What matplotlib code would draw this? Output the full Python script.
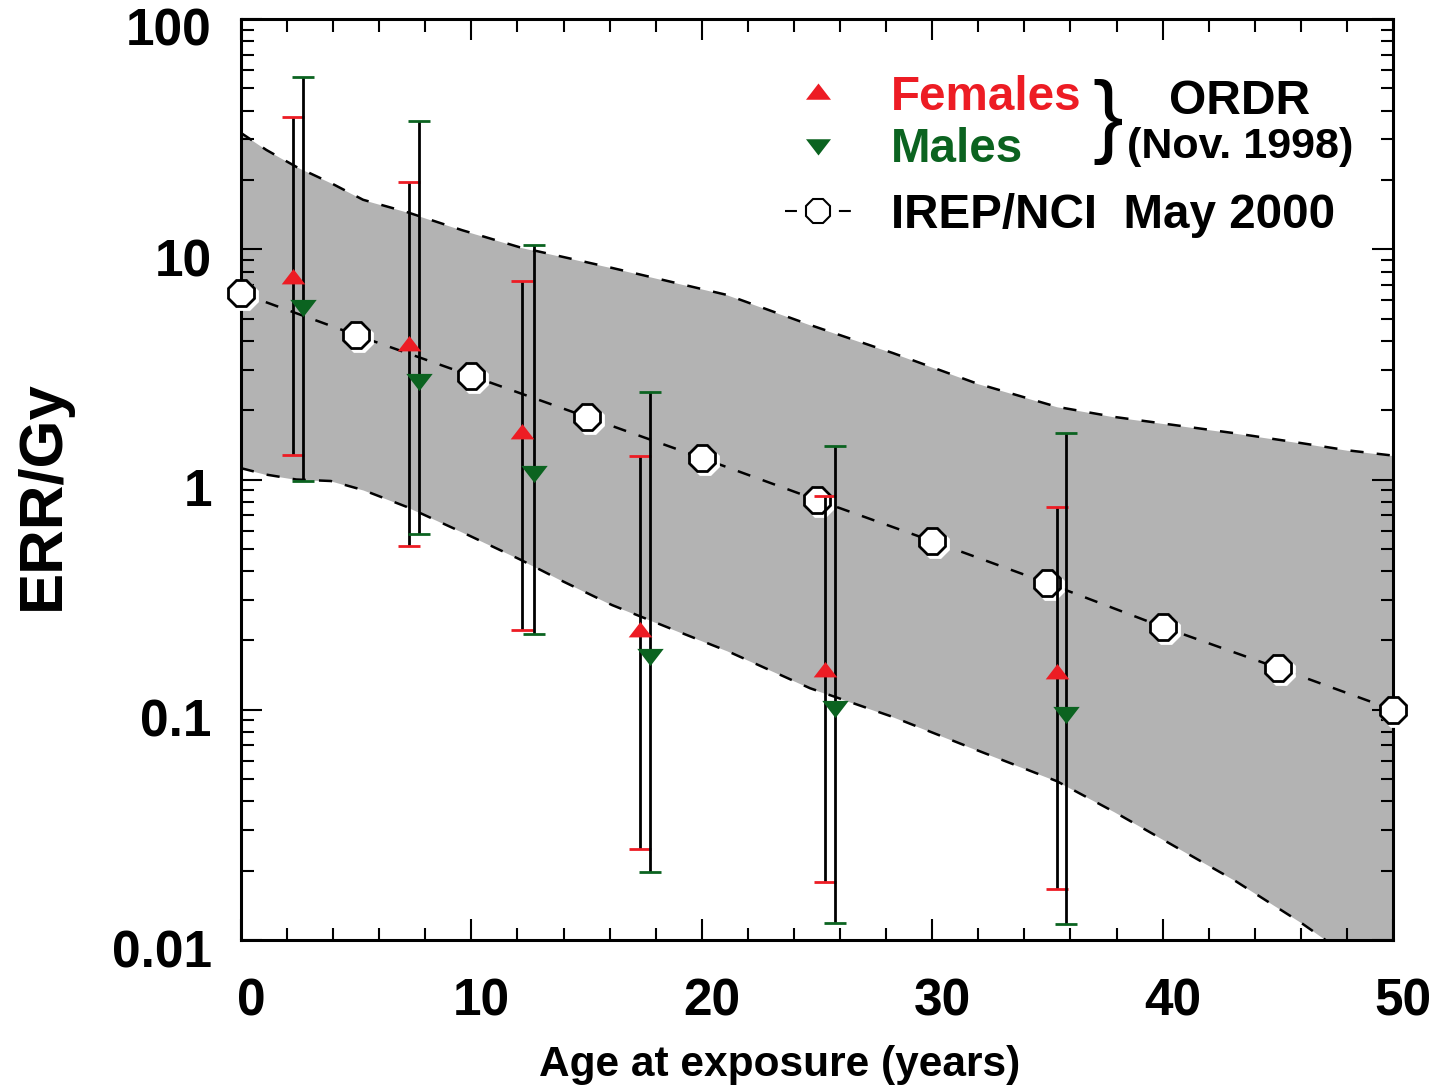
import matplotlib
matplotlib.use("Agg")
import matplotlib.pyplot as plt
import numpy as np
from matplotlib.lines import Line2D
from matplotlib.ticker import FixedLocator, MultipleLocator, LogLocator, NullFormatter
from matplotlib.transforms import ScaledTranslation

plt.rcParams['font.family'] = ['Liberation Sans', 'DejaVu Sans']
plt.rcParams['font.weight'] = 'bold'
plt.rcParams['lines.scale_dashes'] = False

# IREP/NCI May 2000 central estimate
irep_age = [0, 5, 10, 15, 20, 25, 30, 35, 40, 45, 50]
irep_err = [6.45, 4.24, 2.82, 1.87, 1.24, 0.815, 0.54, 0.355, 0.229, 0.152, 0.1]

# IREP uncertainty band (upper / lower dashed curves)
band_age = [0, 1.1, 2.4, 3.9, 5.3, 7.2, 9.6, 12.1, 14, 16.1, 18.9, 21.1,
            24.7, 28.3, 31.9, 35.4, 37.9, 43.1, 46.0, 48, 50]
band_upper = [32, 27, 22.8, 19.4, 16.4, 14.5, 12.1, 10.2, 9.25, 8.3, 7.13, 6.33,
              4.69, 3.54, 2.62, 2.07, 1.87, 1.59, 1.44, 1.34, 1.27]
band_lower = [1.12, 1.05, 1.0, 0.985, 0.9, 0.76, 0.59, 0.45, 0.36, 0.285, 0.22, 0.18,
              0.124, 0.093, 0.067, 0.049, 0.036, 0.0182, 0.0119, 0.0086, 0.006]

# ORDR (Nov. 1998) - females
fem_age = [2.25, 7.3, 12.2, 17.3, 25.35, 35.4]
fem_err = [7.5, 3.84, 1.59, 0.22, 0.147, 0.144]
fem_lo = [1.28, 0.514, 0.222, 0.0248, 0.0179, 0.0166]
fem_hi = [37.5, 19.6, 7.28, 1.27, 0.847, 0.76]

# ORDR (Nov. 1998) - males
male_age = [2.7, 7.73, 12.7, 17.75, 25.8, 35.8]
male_err = [5.67, 2.7, 1.08, 0.173, 0.103, 0.097]
male_lo = [0.99, 0.58, 0.213, 0.0197, 0.0119, 0.0117]
male_hi = [56, 36, 10.4, 2.4, 1.40, 1.59]

xticks = [0, 10, 20, 30, 40, 50]
yticks = [0.01, 0.1, 1, 10, 100]
ytick_labels = ['0.01', '0.1', '1', '10', '100']

red = '#ed1c24'
green = '#0b6320'
gray = '#b3b3b3'

up_tri = [(-1, -0.5), (1, -0.5), (0, 0.8)]
down_tri = [(-1, 0.5), (1, 0.5), (0, -0.8)]

fig = plt.figure(figsize=(14.39, 10.88), dpi=100)
ax = fig.add_axes([241 / 1439, 1 - 940 / 1088, 1152 / 1439, 921 / 1088])

# band
ax.fill_between(band_age, band_lower, band_upper, color=gray, lw=0, zorder=1)
ax.plot(band_age, band_upper, color='k', lw=1.8, dashes=(9.5, 9.5), zorder=2)
ax.plot(band_age, band_lower, color='k', lw=1.8, dashes=(9.5, 9.5), zorder=2)

# IREP central line with octagon markers (white shadow behind)
ax.plot(irep_age, irep_err, color='k', lw=1.8, dashes=(9.5, 9.5), zorder=3)
shadow = ax.transData + ScaledTranslation(3 / 100, -3 / 100, fig.dpi_scale_trans)
ax.plot(irep_age, irep_err, ls='none', marker='8', ms=20, mfc='white', mec='white',
        mew=2, transform=shadow, zorder=4, clip_on=False)
ax.plot(irep_age, irep_err, ls='none', marker='8', ms=20, mfc='white', mec='k',
        mew=2, zorder=5, clip_on=False)

# ORDR error bars: black stems, coloured caps
for age, val, lo, hi, col, mk, ms in [
        (fem_age, fem_err, fem_lo, fem_hi, red, up_tri, 17),
        (male_age, male_err, male_lo, male_hi, green, down_tri, 19)]:
    val = np.array(val)
    yerr = [val - np.array(lo), np.array(hi) - val]
    _, caps, _ = ax.errorbar(age, val, yerr=yerr, fmt='none', ecolor='k', elinewidth=2,
                             capsize=8, capthick=2, zorder=6)
    for c in caps:
        c.set_color(col)
        c.set_markeredgecolor(col)
        c.set_markerfacecolor(col)
    ax.plot(age, val, ls='none', marker=mk, ms=ms, color=col, mew=0, zorder=7)

ax.set_yscale('log')
ax.set_xlim(0, 50)
ax.set_ylim(0.01, 100)

ax.xaxis.set_major_locator(FixedLocator(xticks))
ax.xaxis.set_minor_locator(MultipleLocator(2))
ax.yaxis.set_major_locator(FixedLocator(yticks))
ax.yaxis.set_minor_locator(LogLocator(base=10, subs=np.arange(2, 10)))
ax.yaxis.set_minor_formatter(NullFormatter())
ax.set_xticklabels([str(v) for v in xticks])
ax.set_yticklabels(ytick_labels)

ax.tick_params(which='both', direction='in', top=True, right=True, width=1.5,
               labelsize=37)
ax.tick_params(which='major', length=15)
ax.tick_params(which='minor', length=9)
ax.tick_params(axis='x', which='major', pad=27)
ax.tick_params(axis='y', which='major', pad=21)
for s in ax.spines.values():
    s.set_linewidth(2.2)

xoff = ScaledTranslation(10 / 100, 0, fig.dpi_scale_trans)
yoff = ScaledTranslation(0, -8 / 100, fig.dpi_scale_trans)
for lab in ax.get_xticklabels():
    lab.set_transform(lab.get_transform() + xoff)
for lab in ax.get_yticklabels():
    lab.set_transform(lab.get_transform() + yoff)

fig.text(780 / 1439, 1 - 1065 / 1088, 'Age at exposure (years)', fontsize=30.5,
         ha='center', va='center')
fig.text(43 / 1439, 1 - 495 / 1088, 'ERR/Gy', fontsize=44.5, rotation=90,
         ha='center', va='center')

# legend
h_f = Line2D([], [], ls='none', marker=up_tri, ms=18, color=red, mew=0)
h_m = Line2D([], [], ls='none', marker=down_tri, ms=18, color=green, mew=0)
h_i = Line2D([], [], color='k', lw=1.5, marker='8', ms=19,
             mfc='white', mec='k', mew=1.5)
h_i.set_dashes((8.6, 30.2))
leg_kw = dict(loc='upper left', bbox_transform=fig.transFigure, frameon=False,
              fontsize=34.3, borderpad=0, borderaxespad=0,
              handlelength=1.38, handletextpad=0.84)
leg1 = ax.legend([h_f, h_m], ['Females', 'Males'],
                 bbox_to_anchor=(785 / 1439, 1 - 75 / 1088), labelspacing=0.15, **leg_kw)
for t, c in zip(leg1.get_texts(), [red, green]):
    t.set_color(c)
ax.add_artist(leg1)
ax.legend([h_i], ['IREP/NCI  May 2000'],
          bbox_to_anchor=(785 / 1439, 1 - 193 / 1088), **leg_kw)

fig.text(1108 / 1439, 1 - 122 / 1088, '}', fontsize=66, fontweight='normal',
         ha='center', va='center')
fig.text(1240 / 1439, 1 - 101 / 1088, 'ORDR', fontsize=34.5, ha='center', va='center')
fig.text(1240 / 1439, 1 - 147 / 1088, '(Nov. 1998)', fontsize=31, ha='center', va='center')

fig.savefig('out.png', dpi=100)
